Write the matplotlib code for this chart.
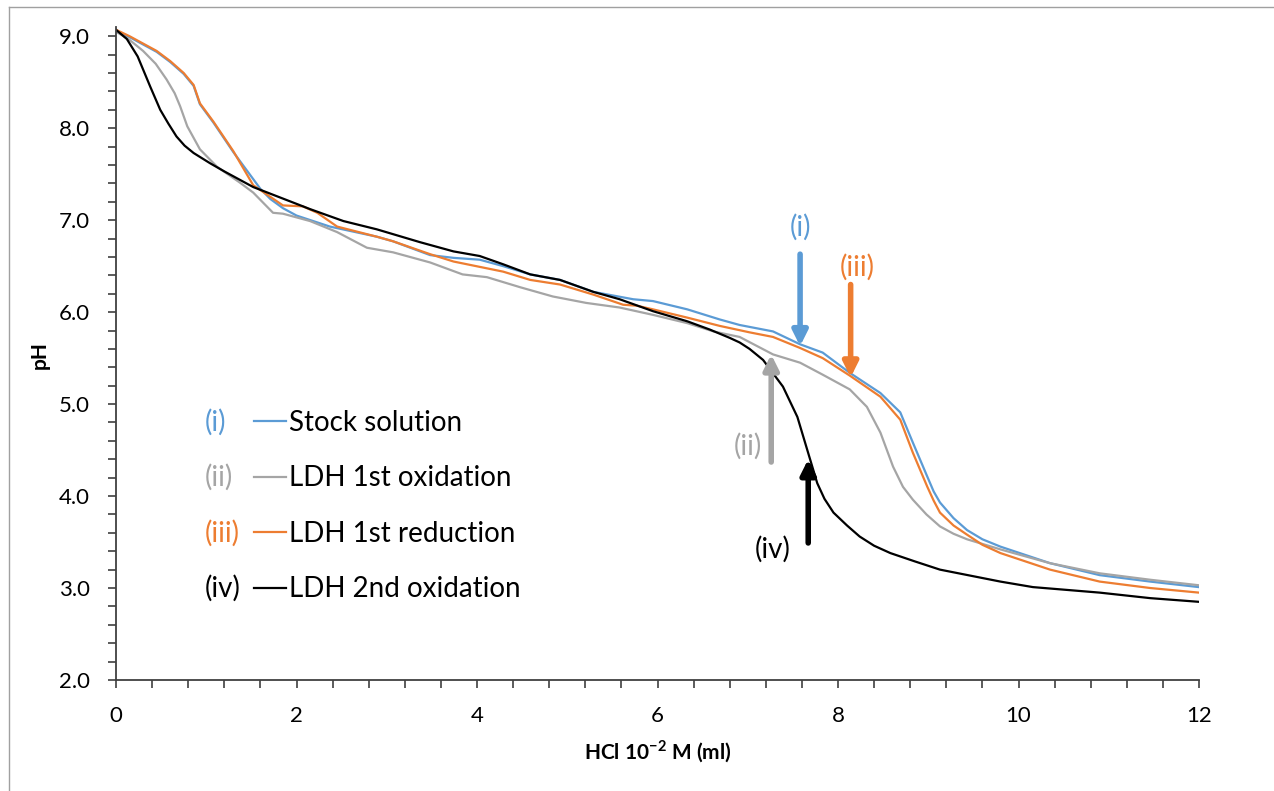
import matplotlib.pyplot as plt
from matplotlib.lines import Line2D
from matplotlib.ticker import MultipleLocator, FormatStrFormatter

plt.rcParams['font.family'] = ['Lato', 'DejaVu Sans']

# titration curves
stock_x = [0, 0.15, 0.3, 0.45, 0.6, 0.75, 0.86, 0.93, 1.08, 1.3, 1.6, 1.71, 1.85, 2.0,
           2.37, 2.89, 3.07, 3.48, 3.74, 4.03, 4.29, 4.59, 4.92, 5.29, 5.73, 5.95,
           6.33, 6.69, 6.91, 7.28, 7.58, 7.83, 8.13, 8.47, 8.69, 8.83, 8.99, 9.06,
           9.13, 9.28, 9.43, 9.6, 9.8, 10.35, 10.9, 11.46, 12.0]
stock_y = [9.05, 8.99, 8.91, 8.83, 8.72, 8.59, 8.46, 8.26, 8.06, 7.74, 7.34, 7.23, 7.13,
           7.05, 6.93, 6.82, 6.77, 6.62, 6.59, 6.57, 6.50, 6.41, 6.35, 6.22, 6.14,
           6.12, 6.03, 5.92, 5.86, 5.79, 5.65, 5.56, 5.34, 5.12, 4.91, 4.58, 4.21,
           4.05, 3.93, 3.76, 3.63, 3.53, 3.45, 3.27, 3.14, 3.07, 3.01]

ox1_x = [0, 0.15, 0.3, 0.44, 0.56, 0.65, 0.71, 0.79, 0.93, 1.12, 1.37, 1.52, 1.74,
         1.85, 2.15, 2.45, 2.78, 3.07, 3.48, 3.84, 4.11, 4.48, 4.84, 5.21, 5.58,
         5.95, 6.33, 6.62, 6.91, 7.28, 7.58, 7.83, 8.13, 8.32, 8.47, 8.61, 8.72,
         8.83, 8.98, 9.13, 9.28, 9.43, 9.8, 10.35, 10.9, 11.46, 12.0]
ox1_y = [9.05, 8.96, 8.84, 8.70, 8.53, 8.38, 8.24, 8.02, 7.77, 7.58, 7.41, 7.30, 7.08,
         7.07, 6.99, 6.87, 6.70, 6.65, 6.54, 6.41, 6.38, 6.27, 6.17, 6.10, 6.05,
         5.97, 5.88, 5.79, 5.73, 5.54, 5.45, 5.32, 5.16, 4.97, 4.69, 4.32, 4.10,
         3.96, 3.80, 3.67, 3.59, 3.53, 3.42, 3.27, 3.16, 3.09, 3.03]

red1_x = [0, 0.15, 0.3, 0.45, 0.6, 0.75, 0.86, 0.93, 1.08, 1.3, 1.52, 1.85, 2.07,
          2.23, 2.45, 2.89, 3.07, 3.48, 3.74, 4.29, 4.59, 4.92, 5.29, 5.62, 5.77,
          5.95, 6.33, 6.69, 7.02, 7.28, 7.58, 7.83, 8.13, 8.47, 8.69, 8.83, 8.99,
          9.06, 9.13, 9.28, 9.43, 9.6, 9.8, 10.35, 10.9, 11.46, 12.0]
red1_y = [9.07, 9.00, 8.92, 8.84, 8.73, 8.60, 8.47, 8.27, 8.07, 7.75, 7.38, 7.16, 7.15,
          7.08, 6.93, 6.82, 6.77, 6.63, 6.55, 6.44, 6.35, 6.30, 6.19, 6.08, 6.07,
          6.03, 5.94, 5.85, 5.78, 5.73, 5.61, 5.50, 5.31, 5.08, 4.83, 4.47, 4.10,
          3.95, 3.82, 3.68, 3.58, 3.47, 3.38, 3.20, 3.07, 3.00, 2.95]

ox2_x = [0, 0.12, 0.24, 0.38, 0.49, 0.58, 0.67, 0.76, 0.86, 1.04, 1.2, 1.52, 2.15,
         2.52, 2.89, 3.37, 3.74, 4.03, 4.29, 4.59, 4.92, 5.29, 5.58, 5.95, 6.33,
         6.58, 6.8, 6.91, 7.02, 7.17, 7.39, 7.55, 7.66, 7.77, 7.85, 7.95, 8.1,
         8.24, 8.4, 8.58, 8.85, 9.13, 9.8, 10.16, 10.9, 11.46, 12.0]
ox2_y = [9.07, 8.97, 8.78, 8.45, 8.20, 8.05, 7.91, 7.81, 7.73, 7.62, 7.53, 7.36, 7.12,
         6.99, 6.90, 6.76, 6.66, 6.61, 6.52, 6.41, 6.35, 6.22, 6.14, 6.01, 5.90,
         5.81, 5.72, 5.67, 5.60, 5.48, 5.19, 4.86, 4.50, 4.14, 3.97, 3.82, 3.68,
         3.56, 3.46, 3.38, 3.29, 3.20, 3.07, 3.01, 2.95, 2.89, 2.85]

labels = ['Stock solution', 'LDH 1st oxidation', 'LDH 1st reduction', 'LDH 2nd oxidation']
numerals = ['(i)', '(ii)', '(iii)', '(iv)']
colors = ['#5B9BD5', '#A5A5A5', '#ED7D31', '#000000']

fig = plt.figure(figsize=(12.74, 7.91), dpi=100)
ax = fig.add_axes([116 / 1274, 1 - 680 / 791, (1199 - 116) / 1274, (680 - 27) / 791])

series = [(stock_x, stock_y), (ox1_x, ox1_y), (red1_x, red1_y), (ox2_x, ox2_y)]
for (xs, ys), lab, col in zip(series, labels, colors):
    ax.plot(xs, ys, color=col, lw=1.6, label=lab, solid_joinstyle='round')

ax.set_xlim(0, 12)
ax.set_ylim(2.0, 9.1)
ax.xaxis.set_major_locator(MultipleLocator(2))
ax.xaxis.set_minor_locator(MultipleLocator(0.4))
ax.set_yticks([2, 3, 4, 5, 6, 7, 8, 9])
ax.set_yticks([2 + 0.2 * i for i in range(36)], minor=True)
ax.yaxis.set_major_formatter(FormatStrFormatter('%.1f'))
for s in ['top', 'right']:
    ax.spines[s].set_visible(False)
for s in ['left', 'bottom']:
    ax.spines[s].set_color('#404040')
    ax.spines[s].set_linewidth(1.3)
ax.tick_params(which='both', direction='out', length=6, width=1.2, color='#404040',
               labelsize=16)
ax.tick_params(axis='x', pad=13)
ax.tick_params(axis='y', pad=13)

ax.set_xlabel('HCl 10$^{\\mathregular{-2}}$ M (ml)', fontsize=15, fontweight='bold')
ax.xaxis.set_label_coords(0.5, -(738 - 680) / 653)
ax.set_ylabel('pH', fontsize=15, fontweight='bold')
ax.yaxis.set_label_coords(-(116 - 50) / 1083, (680 - 355) / 653)

# legend with coloured numerals in front
ax.legend(loc='upper left', bbox_to_anchor=(254 / 1274, 1 - 410 / 791),
          bbox_transform=fig.transFigure, frameon=False, fontsize=20,
          handlelength=1.15, handletextpad=0.12, labelspacing=1.06,
          borderpad=0, borderaxespad=0)
rows = [422, 477, 533, 588]
for num, col, ry in zip(numerals, colors, rows):
    fig.text(205 / 1274, 1 - ry / 791, num, color=col, fontsize=20,
             ha='left', va='center')

# arrows pointing to the curves
arrow_kw = dict(arrowstyle='-|>', lw=4, mutation_scale=22, shrinkA=0, shrinkB=0)
ax.annotate('', xy=(7.58, 5.63), xytext=(7.58, 6.63),
            arrowprops=dict(color=colors[0], **arrow_kw))
ax.text(7.58, 6.92, '(i)', color=colors[0], fontsize=20, ha='center', va='center')
ax.annotate('', xy=(8.14, 5.29), xytext=(8.14, 6.30),
            arrowprops=dict(color=colors[2], **arrow_kw))
ax.text(8.21, 6.49, '(iii)', color=colors[2], fontsize=20, ha='center', va='center')
ax.annotate('', xy=(7.26, 5.54), xytext=(7.26, 4.37),
            arrowprops=dict(color=colors[1], **arrow_kw))
ax.text(7.0, 4.54, '(ii)', color=colors[1], fontsize=20, ha='center', va='center')
ax.annotate('', xy=(7.67, 4.40), xytext=(7.67, 3.49),
            arrowprops=dict(color=colors[3], **arrow_kw))
ax.text(7.28, 3.42, '(iv)', color=colors[3], fontsize=20, ha='center', va='center')

# partial border of the original picture
fig.add_artist(Line2D([9 / 1274, 9 / 1274], [0, 1 - 7 / 791], color='#A0A0A0', lw=1))
fig.add_artist(Line2D([9 / 1274, 1], [1 - 7 / 791, 1 - 7 / 791], color='#A0A0A0', lw=1))

fig.savefig('out.png', dpi=100)
